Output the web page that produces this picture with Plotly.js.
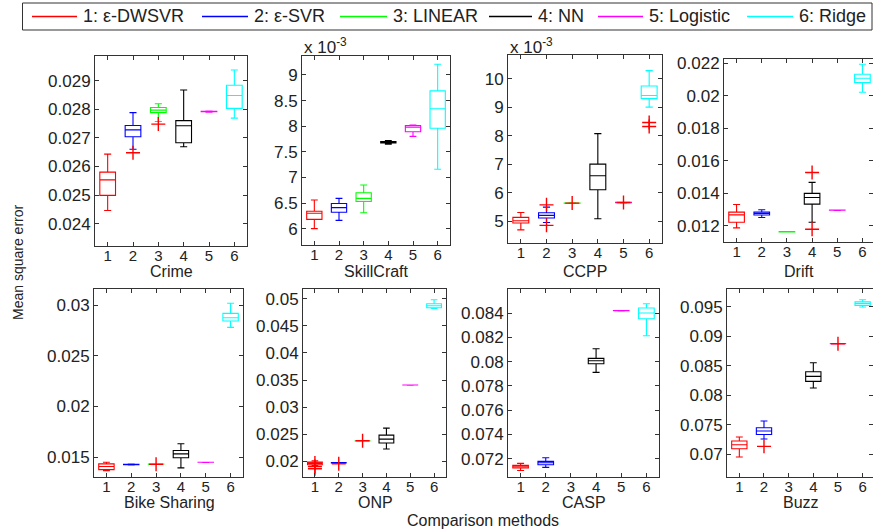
<!DOCTYPE html>
<html><head><meta charset="utf-8">
<script src="https://cdn.plot.ly/plotly-3.0.1.min.js"></script>
<style>html,body{margin:0;padding:0;background:#fff}</style>
</head><body><div id="chart" style="width:873px;height:531px"></div>
<script>
const methodNames = ['1: ε-DWSVR','2: ε-SVR','3: LINEAR','4: NN','5: Logistic','6: Ridge'];
const methodColors = ['#ff0000','#0000ff','#00ff00','#000000','#ff00ff','#00ffff'];
const categories = [1,2,3,4,5,6];
const categoryLabels = ['1','2','3','4','5','6'];
const datasetNames = ['Crime','SkillCraft','CCPP','Drift','Bike Sharing','ONP','CASP','Buzz'];

// Crime
const crimeLower  = [0.02446,0.02660,0.02757,0.02669,0.02790,0.02769];
const crimeQ1     = [0.02499,0.02704,0.02788,0.02683,0.02791,0.02803];
const crimeMedian = [0.02553,0.02728,0.02797,0.02742,0.02792,0.02848];
const crimeQ3     = [0.02580,0.02743,0.02806,0.02760,0.02793,0.02884];
const crimeUpper  = [0.02643,0.02788,0.02819,0.02867,0.02794,0.02937];
const crimeOutX = [2,3];
const crimeOutY = [0.02648,0.02748];
const crimeTicks = [0.024,0.025,0.026,0.027,0.028,0.029];
const crimeTickText = ['0.024','0.025','0.026','0.027','0.028','0.029'];

// SkillCraft (x 10^-3)
const skillLower  = [6.00,6.16,6.31,7.65,7.80,7.16];
const skillQ1     = [6.18,6.32,6.53,7.67,7.89,7.96];
const skillMedian = [6.30,6.41,6.59,7.68,7.98,8.34];
const skillQ3     = [6.34,6.49,6.70,7.70,8.01,8.69];
const skillUpper  = [6.56,6.59,6.85,7.72,8.02,9.21];
const skillOutX = [];
const skillOutY = [];
const skillTicks = [6,6.5,7,7.5,8,8.5,9];
const skillTickText = ['6','6.5','7','7.5','8','8.5','9'];

// CCPP (x 10^-3)
const ccppLower  = [4.70,4.96,5.63,5.09,5.65,9.01];
const ccppQ1     = [4.94,5.12,5.635,6.11,5.655,9.31];
const ccppMedian = [5.02,5.21,5.64,6.60,5.66,9.42];
const ccppQ3     = [5.14,5.30,5.645,7.01,5.665,9.75];
const ccppUpper  = [5.31,5.50,5.65,8.08,5.67,10.29];
const ccppOutX = [2,2,3,5,6,6];
const ccppOutY = [5.58,4.86,5.64,5.66,8.47,8.33];
const ccppTicks = [5,6,7,8,9,10];
const ccppTickText = ['5','6','7','8','9','10'];

// Drift
const driftLower  = [0.01188,0.01252,0.01163,0.01223,0.01296,0.02022];
const driftQ1     = [0.01223,0.01267,0.01164,0.01334,0.01297,0.02081];
const driftMedian = [0.01268,0.01277,0.01164,0.01375,0.01297,0.02108];
const driftQ3     = [0.01285,0.01285,0.01165,0.01400,0.01298,0.02132];
const driftUpper  = [0.01332,0.01300,0.01165,0.01468,0.01298,0.02194];
const driftOutX = [4,4];
const driftOutY = [0.01529,0.01180];
const driftTicks = [0.012,0.014,0.016,0.018,0.02,0.022];
const driftTickText = ['0.012','0.014','0.016','0.018','0.02','0.022'];

// Bike Sharing
const bikeLower  = [0.01368,0.01424,0.01430,0.01395,0.01449,0.02780];
const bikeQ1     = [0.01378,0.01426,0.01431,0.01494,0.01450,0.02842];
const bikeMedian = [0.01408,0.01428,0.01431,0.01533,0.01450,0.02874];
const bikeQ3     = [0.01434,0.01430,0.01432,0.01566,0.01451,0.02918];
const bikeUpper  = [0.01450,0.01432,0.01432,0.01632,0.01451,0.03017];
const bikeOutX = [3];
const bikeOutY = [0.01431];
const bikeTicks = [0.015,0.02,0.025,0.03];
const bikeTickText = ['0.015','0.02','0.025','0.03'];

// ONP
const onpLower  = [0.01919,0.01968,0.02378,0.02227,0.03407,0.04821];
const onpQ1     = [0.01937,0.01972,0.02379,0.02338,0.03408,0.04834];
const onpMedian = [0.01962,0.01974,0.02380,0.02411,0.03408,0.04871];
const onpQ3     = [0.01987,0.01977,0.02381,0.02485,0.03409,0.04908];
const onpUpper  = [0.02011,0.01980,0.02382,0.02614,0.03409,0.04982];
const onpOutX = [1,1,1,2,3];
const onpOutY = [0.01906,0.01863,0.01970,0.01955,0.02380];
const onpTicks = [0.02,0.025,0.03,0.035,0.04,0.045,0.05];
const onpTickText = ['0.02','0.025','0.03','0.035','0.04','0.045','0.05'];

// CASP
const caspLower  = [0.07103,0.07128,null,0.07911,0.08418,0.08213];
const caspQ1     = [0.07123,0.07150,null,0.07982,0.08419,0.08353];
const caspMedian = [0.07134,0.07167,null,0.08007,0.08419,0.08400];
const caspQ3     = [0.07145,0.07178,null,0.08026,0.08420,0.08441];
const caspUpper  = [0.07161,0.07208,null,0.08106,0.08420,0.08477];
const caspOutX = [];
const caspOutY = [];
const caspTicks = [0.072,0.074,0.076,0.078,0.08,0.082,0.084];
const caspTickText = ['0.072','0.074','0.076','0.078','0.08','0.082','0.084'];

// Buzz
const buzzLower  = [0.06949,0.07255,null,0.08122,0.08875,0.09500];
const buzzQ1     = [0.07090,0.07333,null,0.08235,0.08876,0.09527];
const buzzMedian = [0.07158,0.07391,null,0.08320,0.08876,0.09561];
const buzzQ3     = [0.07221,0.07447,null,0.08400,0.08877,0.09590];
const buzzUpper  = [0.07289,0.07561,null,0.08553,0.08877,0.09624];
const buzzOutX = [2,5];
const buzzOutY = [0.07130,0.08876];
const buzzTicks = [0.07,0.075,0.08,0.085,0.09,0.095];
const buzzTickText = ['0.07','0.075','0.08','0.085','0.09','0.095'];

const datasets = [
  {lo:crimeLower,q1:crimeQ1,md:crimeMedian,q3:crimeQ3,hi:crimeUpper,ox:crimeOutX,oy:crimeOutY,tv:crimeTicks,tt:crimeTickText},
  {lo:skillLower,q1:skillQ1,md:skillMedian,q3:skillQ3,hi:skillUpper,ox:skillOutX,oy:skillOutY,tv:skillTicks,tt:skillTickText},
  {lo:ccppLower,q1:ccppQ1,md:ccppMedian,q3:ccppQ3,hi:ccppUpper,ox:ccppOutX,oy:ccppOutY,tv:ccppTicks,tt:ccppTickText},
  {lo:driftLower,q1:driftQ1,md:driftMedian,q3:driftQ3,hi:driftUpper,ox:driftOutX,oy:driftOutY,tv:driftTicks,tt:driftTickText},
  {lo:bikeLower,q1:bikeQ1,md:bikeMedian,q3:bikeQ3,hi:bikeUpper,ox:bikeOutX,oy:bikeOutY,tv:bikeTicks,tt:bikeTickText},
  {lo:onpLower,q1:onpQ1,md:onpMedian,q3:onpQ3,hi:onpUpper,ox:onpOutX,oy:onpOutY,tv:onpTicks,tt:onpTickText},
  {lo:caspLower,q1:caspQ1,md:caspMedian,q3:caspQ3,hi:caspUpper,ox:caspOutX,oy:caspOutY,tv:caspTicks,tt:caspTickText},
  {lo:buzzLower,q1:buzzQ1,md:buzzMedian,q3:buzzQ3,hi:buzzUpper,ox:buzzOutX,oy:buzzOutY,tv:buzzTicks,tt:buzzTickText}
];

// layout geometry (pixels): left, right, top, bottom
const W = 873, H = 531;
const frames = [
  [95,247,56,246],[302,450,56,245],[508,662,55,243],[724,873,59,242],
  [94,243,289,477],[303,446,289,477],[508,659,289,477],[727,873,289,477]
];
const yRanges = [
  [0.02322,0.02986],[5.68,9.37],[4.24,10.84],[0.011015,0.02226],
  [0.01305,0.03158],[0.01712,0.05179],[0.07049,0.08598],[0.06609,0.09806]
];
const xRanges = [[0.5,6.5],[0.5,6.5],[0.5,6.5],[0.5,6.42],[0.5,6.5],[0.5,6.5],[0.5,6.5],[0.5,6.42]];
const labelY = [271,271,271,271,502,502,502,502];
const labelX = [171,376,585,799,169,375,584,801];

const FONT = 'Liberation Sans, Arial, Helvetica, sans-serif';
const traces = [];
const layout = {
  width: W, height: H,
  margin: {l:0,r:0,t:0,b:0},
  paper_bgcolor:'#ffffff', plot_bgcolor:'#ffffff',
  showlegend:false, boxmode:'overlay',
  font:{family:FONT, color:'#222'},
  annotations:[], shapes:[]
};

datasets.forEach((d, k) => {
  const n = k + 1;
  const xa = n === 1 ? 'x' : 'x' + n;
  const ya = n === 1 ? 'y' : 'y' + n;
  const f = frames[k];
  for (let m = 0; m < categories.length; m++) {
    if (d.md[m] === null) continue;
    traces.push({
      type:'box', xaxis:xa, yaxis:ya,
      x:[categories[m]], q1:[d.q1[m]], median:[d.md[m]], q3:[d.q3[m]],
      lowerfence:[d.lo[m]], upperfence:[d.hi[m]],
      boxpoints:false, width:0.62, whiskerwidth:0.45,
      line:{color:methodColors[m], width:1.1},
      fillcolor:'rgba(0,0,0,0)', name:methodNames[m], hoverinfo:'y'
    });
  }
  if (d.ox.length) {
    traces.push({
      type:'scatter', mode:'markers', xaxis:xa, yaxis:ya,
      x:d.ox, y:d.oy,
      marker:{symbol:'cross-thin-open', size:10, color:'#ff0000', line:{color:'#ff0000', width:1.4}},
      name:'outliers', hoverinfo:'y'
    });
  }
  const axCommon = {
    showgrid:false, zeroline:false, showline:true, mirror:'ticks',
    linecolor:'#333', linewidth:1, ticks:'inside', ticklen:4, tickcolor:'#333',
    automargin:false, fixedrange:true
  };
  layout[n === 1 ? 'xaxis' : 'xaxis' + n] = Object.assign({}, axCommon, {
    domain:[f[0]/W, f[1]/W], range:xRanges[k], anchor:ya,
    tickmode:'array', tickvals:categories, ticktext:categoryLabels,
    tickfont:{family:FONT, size:15, color:'#222'}, ticklabelstandoff:-4
  });
  layout[n === 1 ? 'yaxis' : 'yaxis' + n] = Object.assign({}, axCommon, {
    domain:[1 - f[3]/H, 1 - f[2]/H], range:yRanges[k], anchor:xa,
    tickmode:'array', tickvals:d.tv, ticktext:d.tt,
    tickfont:{family:FONT, size:17, color:'#222'}
  });
  layout.annotations.push({
    text:datasetNames[k], xref:'paper', yref:'paper',
    x:labelX[k]/W, y:1 - labelY[k]/H, xanchor:'center', yanchor:'middle',
    showarrow:false, font:{family:FONT, size:16, color:'#222'}
  });
});

// x 10^-3 multipliers
[[302,46],[508,46]].forEach(p => {
  layout.annotations.push({
    text:'x 10<sup>-3</sup>', xref:'paper', yref:'paper',
    x:p[0]/W, y:1 - p[1]/H, xanchor:'left', yanchor:'middle',
    showarrow:false, font:{family:FONT, size:17, color:'#222'}
  });
});

// shared axis titles
layout.annotations.push({
  text:'Comparison methods', xref:'paper', yref:'paper',
  x:483/W, y:1 - 520/H, xanchor:'center', yanchor:'middle',
  showarrow:false, font:{family:FONT, size:16, color:'#222'}
});
layout.annotations.push({
  text:'Mean square error', xref:'paper', yref:'paper',
  x:18/W, y:1 - 262/H, xanchor:'center', yanchor:'middle', textangle:-90,
  showarrow:false, font:{family:FONT, size:14, color:'#222'}
});

// legend box
layout.shapes.push({type:'rect', xref:'paper', yref:'paper',
  x0:22.5/W, x1:872/W, y0:1 - 30/H, y1:1 - 3/H, line:{color:'#333', width:1}, fillcolor:'#fff'});
const legLine = [[32,77],[202,248],[340,387],[489,532],[598,643],[747,793]];
methodNames.forEach((nm, m) => {
  layout.shapes.push({type:'line', xref:'paper', yref:'paper',
    x0:legLine[m][0]/W, x1:legLine[m][1]/W, y0:1 - 16.5/H, y1:1 - 16.5/H,
    line:{color:methodColors[m], width:1.5}});
  layout.annotations.push({
    text:nm, xref:'paper', yref:'paper',
    x:(legLine[m][1] + 4)/W, y:1 - 16.5/H, xanchor:'left', yanchor:'middle',
    showarrow:false, font:{family:FONT, size:18, color:'#222'}
  });
});

Plotly.newPlot('chart', traces, layout, {displayModeBar:false, staticPlot:true});
</script></body></html>
